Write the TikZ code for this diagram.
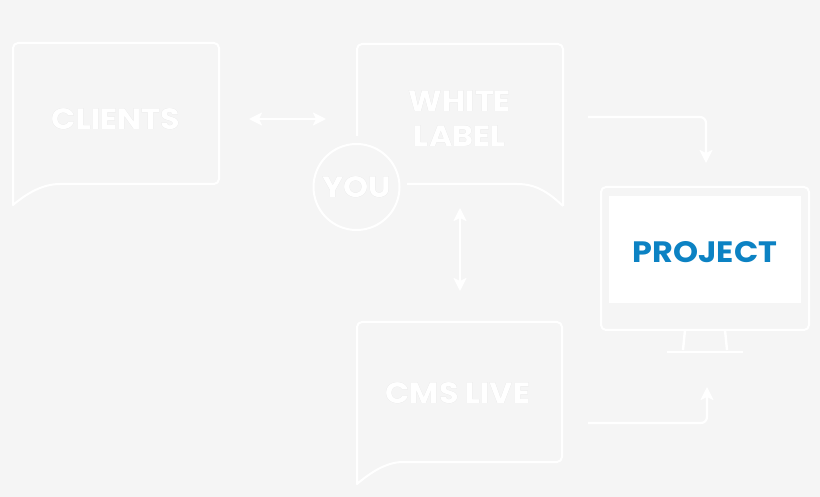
\documentclass[tikz,border=0pt]{standalone}
\usepackage{fontspec}
\setmainfont[FakeStretch=1.08]{Poppins}
\usepackage[outline]{contour}
\contourlength{0.6pt}
\usetikzlibrary{arrows.meta}
\definecolor{bg}{HTML}{F5F5F5}
\definecolor{edge}{HTML}{D6D6D6}
\definecolor{projblue}{RGB}{12,130,195}
\tikzset{
  outline/.style={draw=white, line width=2pt, line join=round},
  lbl/.style={font=\fontsize{29.5}{32}\selectfont\bfseries, text=white, inner sep=0pt, align=center},
  conn/.style={draw=white, line width=2.2pt, -{Stealth[length=13pt,width=13pt,inset=3pt]}},
  bconn/.style={draw=white, line width=2.2pt, {Stealth[length=13pt,width=13pt,inset=3pt]}-{Stealth[length=13pt,width=13pt,inset=3pt]}},
}
\newcommand{\wtext}[1]{\contour{edge}{\textcolor{white}{#1}}}
\begin{document}
\begin{tikzpicture}[x=1pt,y=-1pt]
\fill[bg] (0,0) rectangle (820,497);
\useasboundingbox (0,0) rectangle (820,497);
% clients bubble
\draw[outline, rounded corners=5pt] (13,205) -- (13,43) -- (219,43) -- (219,184) -- (65,184)
  [sharp corners] .. controls (42,184) and (26,194) .. (13,205) -- cycle;
% white label bubble
\draw[outline, rounded corners=5pt] (357,136) -- (357,44) -- (563,44) -- (563,206);
\draw[outline] (563,206) .. controls (548,192) and (536,184) .. (517,184) -- (407,184);
% cms live bubble
\draw[outline, rounded corners=5pt] (357,484) -- (357,322) -- (562,322) -- (562,462) -- (408,462)
  [sharp corners] .. controls (386,462) and (370,473) .. (357,484) -- cycle;
% you circle
\draw[outline] (356.5,187) circle (43);
% monitor
\draw[outline, rounded corners=5pt] (601,187) rectangle (809,330);
\fill[white] (609,196) rectangle (801,303);
\draw[outline, line width=2.4pt] (685,330) -- (683,350);
\draw[outline, line width=2.4pt] (725,330) -- (727,350);
\draw[outline, line width=2.6pt] (667,352) -- (743,352);
% labels
\node[lbl] (clients) at (116,119) {\wtext{CLIENTS}};
\node[lbl] (white) at (460,101) {\wtext{WHITE}};
\node[lbl] (label) at (460,136) {\wtext{LABEL}};
\node[lbl] (you) at (357,187) {\wtext{YOU}};
\node[lbl] (cms) at (458,393) {\wtext{CMS LIVE}};
\node[lbl, text=projblue] (project) at (705,252) {PROJECT};
% connectors
\coordinate (a1) at (249,119); \coordinate (a2) at (326,119);
\draw[bconn] (a1) -- (a2);
\coordinate (v1) at (460,208); \coordinate (v2) at (460,291);
\draw[bconn] (v1) -- (v2);
\coordinate (w1) at (588,117); \coordinate (w2) at (706,163);
\draw[conn, rounded corners=6pt] (w1) -| (w2);
\coordinate (c1) at (588,423); \coordinate (c2) at (707,387);
\draw[conn, rounded corners=6pt] (c1) -| (c2);
\end{tikzpicture}
\end{document}
